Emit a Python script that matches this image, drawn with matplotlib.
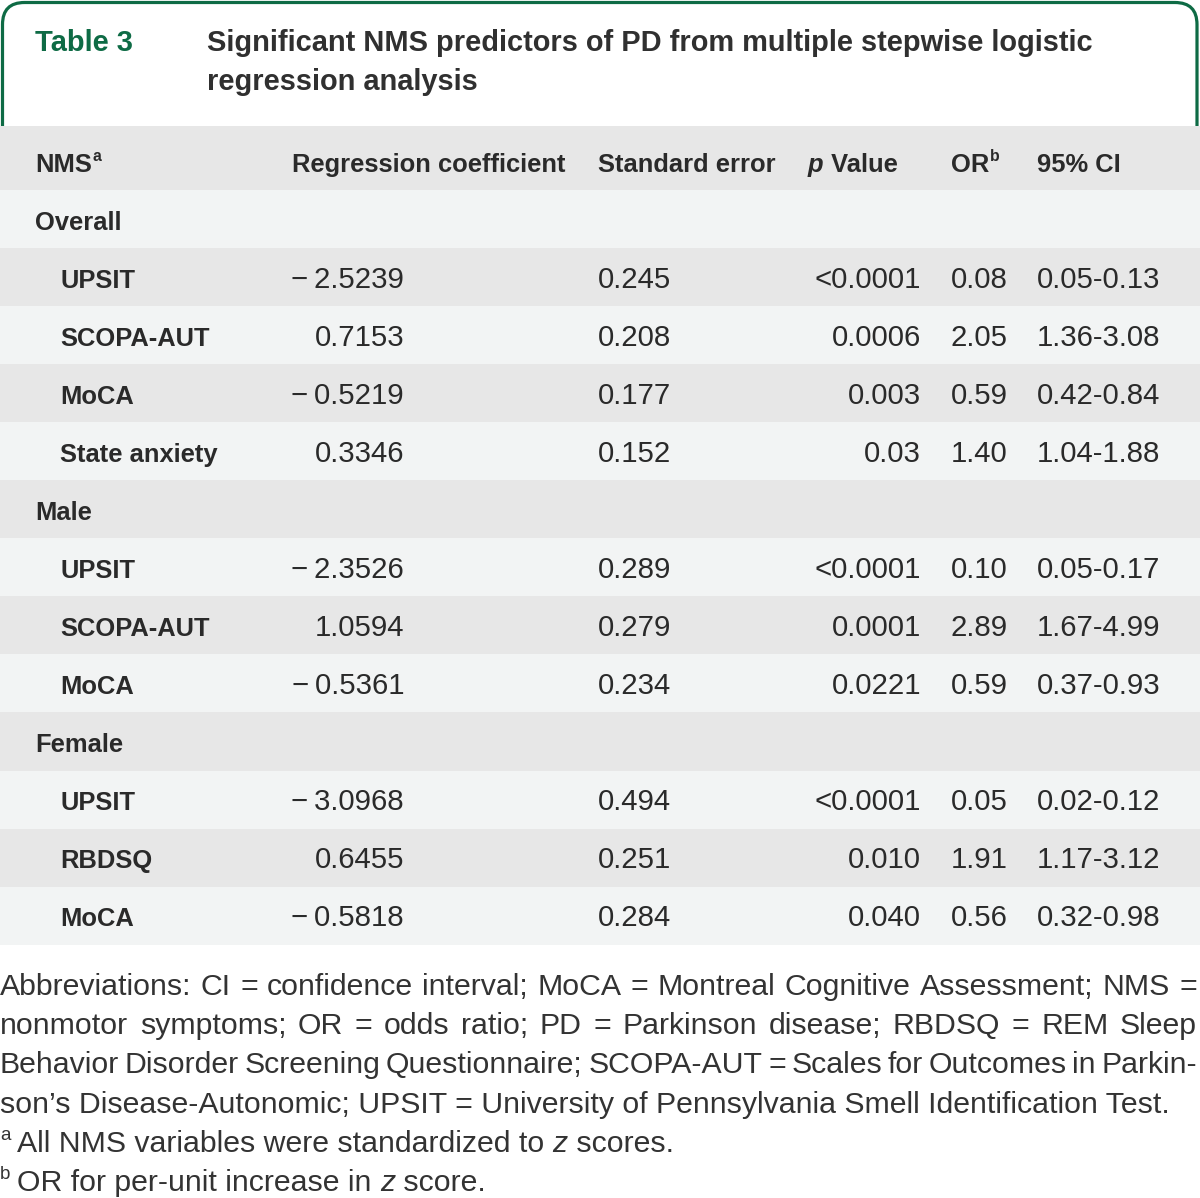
import matplotlib
matplotlib.use("Agg")
import matplotlib.pyplot as plt
from matplotlib.patches import FancyBboxPatch

plt.rcParams['font.family'] = ['Liberation Sans', 'DejaVu Sans']

GREEN = '#0e6b45'
INK = '#2a2a2a'
DARK = '#e7e7e7'
LIGHT = '#f2f4f4'

# ---- table content ----
table_label = 'Table 3'
title_lines = ['Significant NMS predictors of PD from multiple stepwise logistic',
               'regression analysis']

groups = ['Overall', 'Male', 'Female']
predictors = [['UPSIT', 'SCOPA-AUT', 'MoCA', 'State anxiety'],
              ['UPSIT', 'SCOPA-AUT', 'MoCA'],
              ['UPSIT', 'RBDSQ', 'MoCA']]
coef = [[-2.5239, 0.7153, -0.5219, 0.3346],
        [-2.3526, 1.0594, -0.5361],
        [-3.0968, 0.6455, -0.5818]]
std_err = [[0.245, 0.208, 0.177, 0.152],
           [0.289, 0.279, 0.234],
           [0.494, 0.251, 0.284]]
p_vals = [['<0.0001', '0.0006', '0.003', '0.03'],
          ['<0.0001', '0.0001', '0.0221'],
          ['<0.0001', '0.010', '0.040']]
odds = [['0.08', '2.05', '0.59', '1.40'],
        ['0.10', '2.89', '0.59'],
        ['0.05', '1.91', '0.56']]
ci = [['0.05-0.13', '1.36-3.08', '0.42-0.84', '1.04-1.88'],
      ['0.05-0.17', '1.67-4.99', '0.37-0.93'],
      ['0.02-0.12', '1.17-3.12', '0.32-0.98']]

abbrev_lines = [
    'Abbreviations: CI = confidence interval; MoCA = Montreal Cognitive Assessment; NMS =',
    'nonmotor symptoms; OR = odds ratio; PD = Parkinson disease; RBDSQ = REM Sleep',
    'Behavior Disorder Screening Questionnaire; SCOPA-AUT = Scales for Outcomes in Parkin-',
    'son\u2019s Disease-Autonomic; UPSIT = University of Pennsylvania Smell Identification Test.',
]
note_marks = ['a', 'b']
note_runs = [[('All NMS variables were standardized to ', 'normal'), ('z', 'italic'), (' scores.', 'normal')],
             [('OR for per-unit increase in ', 'normal'), ('z', 'italic'), (' score.', 'normal')]]

# ---- figure: one axes in pixel units ----
fig = plt.figure(figsize=(12, 11.98), dpi=100)
ax = fig.add_axes([0, 0, 1, 1])
ax.set_xlim(0, 1200)
ax.set_ylim(1198, 0)
ax.axis('off')
renderer = fig.canvas.get_renderer()


def width_of(t):
    return t.get_window_extent(renderer).width


def fit_size(s, target, **kw):
    t = ax.text(0, 0, s, fontsize=20, **kw)
    w = width_of(t)
    t.remove()
    return 20 * target / w


TITLE_SIZE = fit_size(title_lines[0], 885, fontweight='bold')
BODY_SIZE = fit_size('Regression coefficient', 274, fontweight='bold')
VALUE_SIZE = fit_size('0.0006', 90)
NOTE_SIZE = fit_size(abbrev_lines[3], 1165)


def runs(x, y, parts, size, color=INK, weight='normal'):
    # place text pieces one after another on the same baseline
    for s, style in parts:
        t = ax.text(x, y, s, fontsize=size, color=color, fontweight=weight,
                    fontstyle=style, va='baseline', ha='left', zorder=5)
        x += width_of(t)
    return x


def sup_text(x, y, base, mark, size, weight='bold'):
    t = ax.text(x, y, base, fontsize=size, color=INK, fontweight=weight,
                va='baseline', zorder=5)
    x2 = x + width_of(t) + 1
    ax.text(x2, y - 0.42 * size * 1.389, mark, fontsize=size * 0.62, color=INK,
            fontweight=weight, va='baseline', zorder=5)


# ---- green title frame ----
frame = FancyBboxPatch((2.5, 2.5), 1194.5, 180, boxstyle='round,pad=0,rounding_size=22',
                       facecolor='white', edgecolor=GREEN, linewidth=2.3, zorder=1)
ax.add_patch(frame)
ax.text(35, 51, table_label, fontsize=TITLE_SIZE, color=GREEN, fontweight='bold',
        va='baseline', zorder=5)
for i, line in enumerate(title_lines):
    ax.text(207, 51 + 39.5 * i, line, fontsize=TITLE_SIZE, color='#303030',
            fontweight='bold', va='baseline', zorder=5)

# ---- row layout ----
HEADER_TOP, HEADER_H = 126, 64
ROW_H = 58.08
rows = []
for g, preds in enumerate(predictors):
    rows.append(('group', g, None))
    for k in range(len(preds)):
        rows.append(('item', g, k))

ax.barh(HEADER_TOP + HEADER_H / 2, 1200, height=HEADER_H, left=0, color=DARK, zorder=2)
top0 = HEADER_TOP + HEADER_H
centers = [top0 + ROW_H * (i + 0.5) for i in range(len(rows))]
colors = [LIGHT if i % 2 == 0 else DARK for i in range(len(rows))]
ax.barh(centers, 1200, height=ROW_H + 0.5, left=0, color=colors, zorder=2)

# header
hy = HEADER_TOP + 46
sup_text(35, hy, 'NMS', 'a', BODY_SIZE)
ax.text(292, hy, 'Regression coefficient', fontsize=BODY_SIZE, color=INK,
        fontweight='bold', va='baseline', zorder=5)
ax.text(598, hy, 'Standard error', fontsize=BODY_SIZE, color=INK,
        fontweight='bold', va='baseline', zorder=5)
runs(808, hy, [('p', 'italic'), (' Value', 'normal')], BODY_SIZE, weight='bold')
sup_text(951, hy, 'OR', 'b', BODY_SIZE)
ax.text(1037, hy, '95% CI', fontsize=BODY_SIZE, color=INK,
        fontweight='bold', va='baseline', zorder=5)

# body
for i, (kind, g, k) in enumerate(rows):
    y = top0 + ROW_H * i + 39.5
    if kind == 'group':
        ax.text(35, y, groups[g], fontsize=BODY_SIZE, color=INK, fontweight='bold',
                va='baseline', zorder=5)
        continue
    ax.text(60, y, predictors[g][k], fontsize=BODY_SIZE, color=INK, fontweight='bold',
            va='baseline', zorder=5)
    c = f'{coef[g][k]:.4f}'.replace('-', '\u2212\u2009')
    ax.text(404, y, c, fontsize=VALUE_SIZE, color=INK, ha='right', va='baseline', zorder=5)
    ax.text(598, y, f'{std_err[g][k]:.3f}', fontsize=VALUE_SIZE, color=INK,
            va='baseline', zorder=5)
    ax.text(921, y, p_vals[g][k], fontsize=VALUE_SIZE, color=INK, ha='right',
            va='baseline', zorder=5)
    ax.text(951, y, odds[g][k], fontsize=VALUE_SIZE, color=INK, va='baseline', zorder=5)
    ax.text(1037, y, ci[g][k], fontsize=VALUE_SIZE, color=INK, va='baseline', zorder=5)

# ---- footnotes ----
NOTE_INK = '#333333'
fy0, fstep = 995, 39.2
for i, line in enumerate(abbrev_lines):
    y = fy0 + fstep * i
    words = line.split(' ')
    if i < len(abbrev_lines) - 1:
        arts = [ax.text(0, y, w, fontsize=NOTE_SIZE, color=NOTE_INK, va='baseline', zorder=5)
                for w in words]
        widths = [width_of(a) for a in arts]
        gap = (1197 - sum(widths)) / (len(words) - 1)
        x = 0
        for a, w in zip(arts, widths):
            a.set_x(x)
            x += w + gap
    else:
        ax.text(0, y, line, fontsize=NOTE_SIZE, color=NOTE_INK, va='baseline', zorder=5)

for j, (mark, parts) in enumerate(zip(note_marks, note_runs)):
    y = fy0 + fstep * (len(abbrev_lines) + j)
    ax.text(0, y - 0.4 * NOTE_SIZE * 1.389, mark, fontsize=NOTE_SIZE * 0.62,
            color=NOTE_INK, va='baseline', zorder=5)
    runs(17, y, parts, NOTE_SIZE, color=NOTE_INK)

fig.savefig('out.png', dpi=100, facecolor='white')
